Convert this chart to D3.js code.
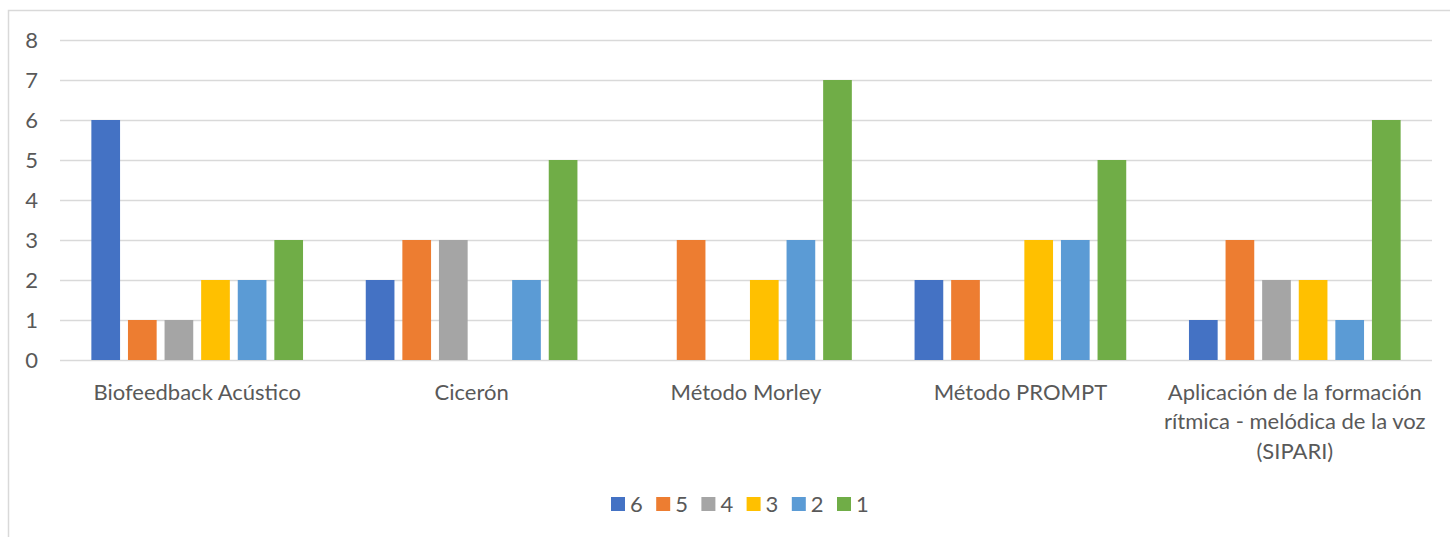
<!DOCTYPE html>
<html lang="es">
<head>
<meta charset="utf-8">
<title>Métodos</title>
<script src="https://cdn.jsdelivr.net/npm/d3@7"></script>
<style>
  body { margin: 0; background: #fff; }
  text { font-family: Lato, "Open Sans", sans-serif; fill: #595959; }
</style>
</head>
<body>
<script>
// data
var categories = ["Biofeedback Acústico", "Cicerón", "Método Morley", "Método PROMPT",
  "Aplicación de la formación|rítmica - melódica de la voz|(SIPARI)"];
var seriesNames = ["6", "5", "4", "3", "2", "1"];
var s6 = [6, 2, 0, 2, 1];
var s5 = [1, 3, 3, 2, 3];
var s4 = [1, 3, 0, 0, 2];
var s3 = [2, 0, 2, 3, 2];
var s2 = [2, 2, 3, 3, 1];
var s1 = [3, 5, 7, 5, 6];
var yTicks = [0, 1, 2, 3, 4, 5, 6, 7, 8];
var colors = ["#4472C4", "#ED7D31", "#A5A5A5", "#FFC000", "#5B9BD5", "#70AD47"];

var allSeries = [s6, s5, s4, s3, s2, s1];
var rows = categories.map(function(c, i) {
  return { cat: c, vals: allSeries.map(function(s, j) { return { key: seriesNames[j], v: s[i] }; }) };
});

var W = 1450, H = 537;
var fs = "22px";
var svg = d3.select("body").append("svg").attr("width", W).attr("height", H);

// outer chart border (only top and left visible)
svg.append("rect").attr("x", 8.5).attr("y", 10.5).attr("width", W).attr("height", H)
  .attr("fill", "none").attr("stroke", "#d9d9d9").attr("stroke-width", 1.5);

var x0 = d3.scaleBand().domain(categories).range([60, 1432]);
var x1 = d3.scaleBand().domain(seriesNames).range([0, x0.bandwidth()])
  .paddingInner(0.216).paddingOuter(0.857);
var y = d3.scaleLinear().domain([0, 8]).range([360, 40]);

// gridlines
svg.append("g").selectAll("line").data(yTicks).enter().append("line")
  .attr("x1", 60).attr("x2", 1432)
  .attr("y1", function(d) { return y(d) + 0.5; })
  .attr("y2", function(d) { return y(d) + 0.5; })
  .attr("stroke", "#d9d9d9").attr("stroke-width", 1.3);

// y tick labels
svg.append("g").selectAll("text").data(yTicks).enter().append("text")
  .attr("x", 38).attr("y", function(d) { return y(d); })
  .attr("dy", "0.36em").attr("text-anchor", "end")
  .style("font-size", fs)
  .text(function(d) { return d; });

// bars
var groups = svg.append("g").selectAll("g").data(rows).enter().append("g")
  .attr("transform", function(d) { return "translate(" + x0(d.cat) + ",0)"; });
groups.selectAll("rect").data(function(d) { return d.vals; }).enter().append("rect")
  .attr("x", function(d) { return x1(d.key); })
  .attr("width", x1.bandwidth())
  .attr("y", function(d) { return y(d.v); })
  .attr("height", function(d) { return y(0) - y(d.v); })
  .attr("fill", function(d, i) { return colors[i]; });

// category labels
var lab = svg.append("g").selectAll("text").data(categories).enter().append("text")
  .attr("text-anchor", "middle")
  .style("font-size", fs)
  .attr("transform", function(d) { return "translate(" + (x0(d) + x0.bandwidth() / 2) + ",392)"; });
lab.selectAll("tspan").data(function(d) { return d.split("|"); }).enter().append("tspan")
  .attr("x", 0).attr("y", function(d, i) { return i * 29.5; })
  .attr("dy", "0.36em")
  .text(function(d) { return d; });

// legend
var legend = svg.append("g").attr("transform", "translate(611,504)");
var li = legend.selectAll("g").data(seriesNames).enter().append("g")
  .attr("transform", function(d, i) { return "translate(" + (i * 45.2) + ",0)"; });
li.append("rect").attr("x", 0).attr("y", -7).attr("width", 14).attr("height", 14)
  .attr("fill", function(d, i) { return colors[i]; });
li.append("text").attr("x", 19).attr("y", 0).attr("dy", "0.36em")
  .style("font-size", fs).text(function(d) { return d; });
</script>
</body>
</html>
